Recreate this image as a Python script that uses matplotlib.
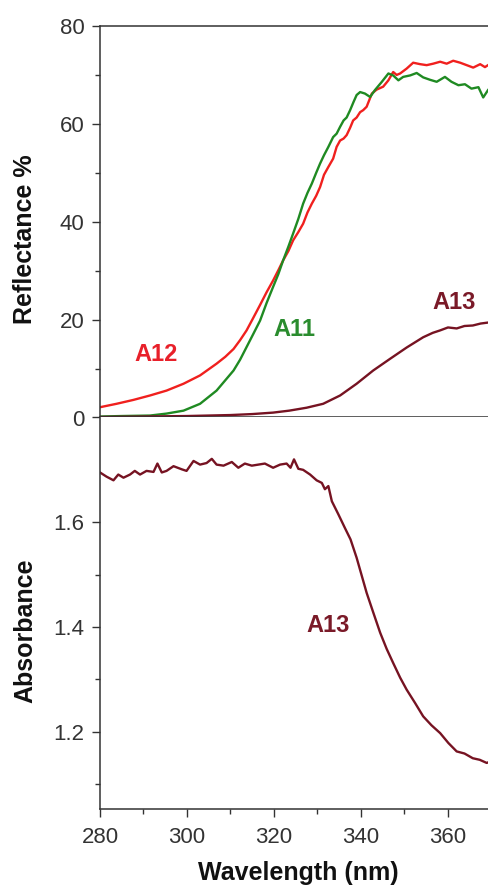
import matplotlib
matplotlib.use("Agg")
import matplotlib.pyplot as plt
from matplotlib.ticker import MultipleLocator, FixedLocator

plt.rcParams['font.family'] = ['Liberation Sans', 'DejaVu Sans']

# Diffuse reflectance spectra (%)
wl_a12 = [280.0, 283.8, 287.7, 291.5, 295.3, 299.2, 303.0, 306.8, 308.8, 310.7,
          312.2, 313.7, 315.2, 316.8, 318.3, 319.8, 321.0, 322.1, 323.3, 324.4,
          325.6, 326.7, 327.7, 328.7, 329.7, 330.6, 331.5, 332.5, 333.6, 334.4,
          335.2, 336.0, 336.7, 337.5, 338.2, 339.0, 339.8, 340.5, 341.3, 342.5,
          343.6, 345.1, 346.3, 347.4, 348.2, 349.0, 350.5, 352.0, 353.6, 355.1,
          356.6, 358.2, 359.7, 361.2, 362.8, 364.3, 365.8, 367.4, 368.5, 369.2]
refl_a12 = [2.1, 2.8, 3.6, 4.5, 5.5, 6.9, 8.6, 11.0, 12.4, 14.0,
            15.8, 17.8, 20.3, 23.0, 25.6, 28.0, 30.1, 32.1, 34.0, 36.2,
            37.9, 39.6, 41.9, 43.7, 45.3, 47.1, 49.6, 51.2, 52.9, 55.3,
            56.6, 57.0, 57.7, 59.2, 60.7, 61.3, 62.4, 62.8, 63.5, 66.2,
            67.0, 67.6, 68.9, 70.6, 70.0, 70.3, 71.3, 72.5, 72.2, 72.0,
            72.3, 72.7, 72.3, 72.9, 72.5, 72.0, 71.5, 72.2, 71.6, 72.0]

wl_a11 = [280.0, 285.0, 291.5, 295.3, 299.2, 303.0, 306.8, 310.7, 312.2, 313.7,
          315.2, 316.8, 318.3, 319.8, 321.0, 322.1, 323.3, 324.4, 325.6, 326.7,
          327.7, 328.7, 329.7, 330.6, 331.5, 332.5, 333.6, 334.4, 335.2, 336.0,
          336.7, 337.5, 338.3, 339.0, 339.8, 340.9, 342.1, 343.2, 344.8, 346.3,
          347.4, 348.6, 349.7, 351.3, 352.8, 354.3, 355.9, 357.4, 359.3, 360.8,
          362.4, 363.9, 365.4, 367.0, 368.1, 369.2]
refl_a11 = [0.2, 0.3, 0.4, 0.8, 1.4, 2.8, 5.5, 9.6, 11.8, 14.4,
            17.0, 19.8, 23.4, 26.7, 29.3, 32.1, 34.9, 37.6, 40.6, 43.7,
            45.9, 47.8, 50.0, 51.9, 53.6, 55.3, 57.3, 58.0, 59.4, 60.7,
            61.3, 62.8, 64.5, 65.9, 66.5, 66.2, 65.5, 66.9, 68.6, 70.3,
            69.9, 68.9, 69.6, 69.9, 70.4, 69.5, 69.0, 68.6, 69.6, 68.6,
            67.9, 68.1, 67.2, 67.5, 65.4, 66.9]

wl_a13 = [280.0, 290.0, 300.0, 310.0, 315.0, 319.8, 323.5, 327.5, 331.3, 335.2,
          339.0, 342.8, 346.7, 350.5, 354.3, 356.5, 358.2, 360.0, 362.0, 363.8,
          365.7, 367.5, 369.2]
refl_a13 = [0.1, 0.2, 0.3, 0.5, 0.7, 1.0, 1.4, 2.0, 2.8, 4.5,
            6.9, 9.6, 12.0, 14.3, 16.4, 17.3, 17.8, 18.4, 18.2, 18.7,
            18.8, 19.2, 19.4]

# Absorbance spectrum of A13
wl_abs = [280.0, 281.5, 283.1, 284.2, 285.4, 286.9, 288.0, 289.2, 290.7, 292.3,
          293.2, 294.2, 295.3, 296.9, 298.8, 299.9, 301.5, 303.0, 304.5, 305.7,
          306.8, 308.4, 310.3, 311.8, 313.3, 314.9, 316.4, 317.9, 319.8, 321.4,
          322.9, 323.8, 324.6, 325.6, 326.7, 328.3, 329.8, 331.0, 331.7, 332.5,
          333.3, 334.8, 336.3, 337.6, 339.0, 341.3, 342.8, 344.4, 345.9, 347.4,
          349.0, 350.5, 352.4, 354.3, 356.2, 358.2, 360.1, 362.0, 363.8, 365.7,
          367.3, 368.9, 369.2]
abs_a13 = [1.695, 1.687, 1.680, 1.691, 1.685, 1.691, 1.698, 1.691, 1.698, 1.696,
           1.712, 1.695, 1.698, 1.707, 1.701, 1.698, 1.717, 1.710, 1.713, 1.721,
           1.710, 1.708, 1.715, 1.704, 1.712, 1.708, 1.710, 1.712, 1.704, 1.710,
           1.712, 1.704, 1.720, 1.702, 1.700, 1.691, 1.680, 1.675, 1.663, 1.669,
           1.640, 1.615, 1.589, 1.567, 1.532, 1.465, 1.428, 1.389, 1.358, 1.331,
           1.303, 1.280, 1.255, 1.229, 1.212, 1.197, 1.178, 1.162, 1.158, 1.149,
           1.146, 1.140, 1.141]

red = '#f0201e'
green = '#1f8a22'
maroon = '#761322'
text_red = '#e8202a'
text_green = '#2a8c2e'
text_maroon = '#7a1a28'

W, H = 488, 888
fig = plt.figure(figsize=(W / 100, H / 100), dpi=100)

left = 100 / W
width = 1 - left
ax1 = fig.add_axes([left, 1 - 417.5 / H, width, (417.5 - 26) / H])
ax2 = fig.add_axes([left, 1 - 809 / H, width, (809 - 417.5) / H])

lw = 1.7
ax1.plot(wl_a12, refl_a12, color=red, lw=lw)
ax1.plot(wl_a11, refl_a11, color=green, lw=lw)
ax1.plot(wl_a13, refl_a13, color=maroon, lw=lw)
ax2.plot(wl_abs, abs_a13, color=maroon, lw=lw)

xmin, xmax = 280, 369.2
for ax in (ax1, ax2):
    ax.set_xlim(xmin, xmax)
    ax.spines['right'].set_visible(False)
    for s in ax.spines.values():
        s.set_linewidth(1.1)
        s.set_color('#333333')
    ax.tick_params(axis='both', which='major', direction='out', length=6,
                   width=1.0, labelsize=16, colors='#333333', pad=5)
    ax.tick_params(axis='both', which='minor', direction='out', length=3.5,
                   width=1.0, colors='#333333')
    ax.tick_params(axis='x', which='both', top=False)
    ax.tick_params(axis='y', which='both', right=False)

ax1.set_ylim(0, 80)
ax1.yaxis.set_major_locator(MultipleLocator(20))
ax1.yaxis.set_minor_locator(MultipleLocator(10))
ax1.tick_params(axis='x', which='both', bottom=False, labelbottom=False)

ax2.set_ylim(1.052, 1.80)
ax2.spines['top'].set_visible(False)
ax2.yaxis.set_major_locator(FixedLocator([1.2, 1.4, 1.6]))
ax2.yaxis.set_minor_locator(FixedLocator([1.1, 1.3, 1.5]))
ax2.yaxis.set_major_formatter(matplotlib.ticker.FormatStrFormatter('%.1f'))
ax2.xaxis.set_major_locator(MultipleLocator(20))
ax2.xaxis.set_minor_locator(MultipleLocator(10))
ax2.tick_params(axis='x', which='major', pad=7)

# Curve labels
ax1.text(292.9, 12.8, 'A12', color=text_red, fontsize=17, fontweight='bold',
         ha='center', va='center')
ax1.text(324.8, 18.0, 'A11', color=text_green, fontsize=17, fontweight='bold',
         ha='center', va='center')
ax1.text(361.5, 23.5, 'A13', color=text_maroon, fontsize=17, fontweight='bold',
         ha='center', va='center')
ax2.text(332.5, 1.403, 'A13', color=text_maroon, fontsize=17, fontweight='bold',
         ha='center', va='center')

# Axis titles
fig.text(25 / W, 1 - 239 / H, 'Reflectance %', rotation=90, fontsize=18,
         fontweight='bold', ha='center', va='center', color='#111111')
fig.text(25 / W, 1 - 631 / H, 'Absorbance', rotation=90, fontsize=18,
         fontweight='bold', ha='center', va='center', color='#111111')
fig.text(298 / W, 1 - 880 / H, 'Wavelength (nm)', fontsize=18,
         fontweight='bold', ha='center', va='baseline', color='#111111')

fig.savefig('out.png', dpi=100)
